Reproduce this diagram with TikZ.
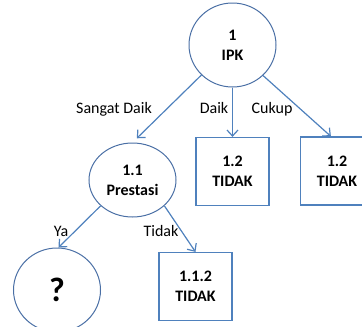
\documentclass[tikz,border=0pt]{standalone}
\usepackage{fontspec}
\setmainfont{Carlito}
\usetikzlibrary{arrows.meta,shapes.geometric}
\definecolor{lineblue}{HTML}{4F81BD}
\definecolor{nodeblue}{HTML}{4A6FA5}
\begin{document}
\begin{tikzpicture}[x=1pt,y=-1pt,
  nodetext/.style={font=\fontsize{16}{20}\selectfont\bfseries},
  circ/.style={ellipse,draw=nodeblue,line width=1pt,inner sep=0pt,minimum width=87pt,minimum height=84pt,align=center,nodetext},
  box/.style={rectangle,draw=lineblue,line width=1.2pt,inner sep=0pt,minimum width=73pt,minimum height=68pt,align=center,nodetext},
  arr/.style={draw=lineblue,line width=1.2pt,-{Straight Barb[length=6pt,width=11pt]}},
  lbl/.style={font=\fontsize{16}{19}\selectfont,inner sep=0pt,anchor=base}]
\useasboundingbox (0,0) rectangle (362,327);
\node[circ] (ipk) at (232.5,45) {1\\IPK};
\node[circ,minimum height=74pt] (pres) at (132.5,180) {1.1\\Prestasi};
\node[circ,font=\fontsize{34}{40}\selectfont\bfseries] (q) at (57,290) {?};
\node[box] (m) at (232.5,171.5) {1.2\\TIDAK};
\node[box] (r) at (337,171) {1.2\\TIDAK};
\node[box] (t) at (195.5,286.5) {1.1.2\\TIDAK};
\draw[arr,shorten >=6pt] (ipk.224) -- (pres.north);
\draw[arr] (ipk.south) -- (m.north);
\draw[arr] (ipk.315) -- (r.100);
\draw[arr] (pres.219) -- (q.88);
\draw[arr] (pres.321) -- (t.north);
\node[lbl] (l1) at (114,113) {Sangat Daik};
\node[lbl] (l2) at (214,113) {Daik};
\node[lbl] (l3) at (272,113) {Cukup};
\node[lbl] (l4) at (61,236) {Ya};
\node[lbl] (l5) at (161,236) {Tidak};
\end{tikzpicture}
\end{document}
